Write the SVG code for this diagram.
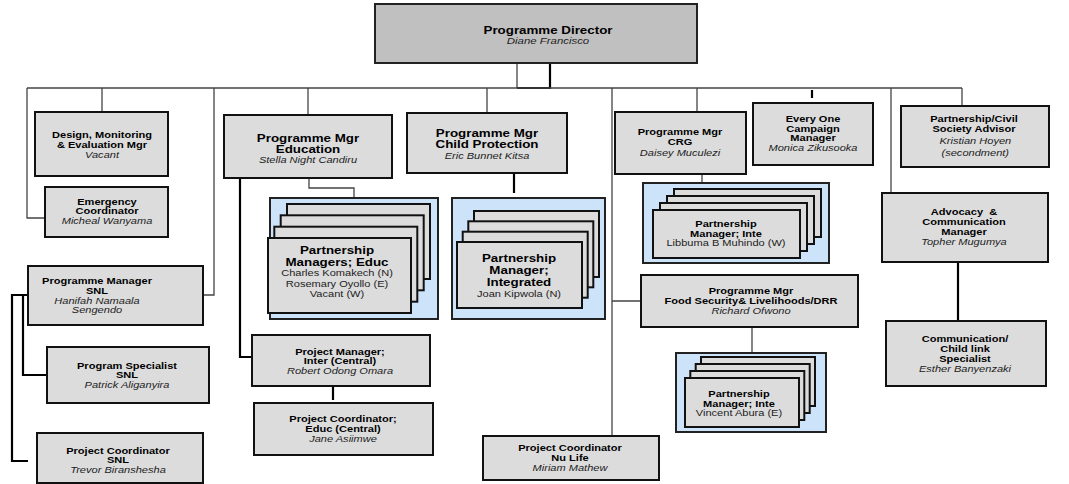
<svg xmlns="http://www.w3.org/2000/svg" width="1069" height="484" viewBox="0 0 1069 484">
  <style>
    .box { fill:#dcdcdc; stroke:#111; stroke-width:2; }
    .dir { fill:#c0c0c0; stroke:#222; stroke-width:2; }
    .frame { fill:#cce3fa; stroke:#222; stroke-width:2; }
    .card { fill:#dcdcdc; stroke:#111; stroke-width:2; }
    .ln { fill:none; stroke:#444; stroke-width:1.3; }
    .lk { fill:none; stroke:#000; stroke-width:2.2; }
    text { font-family:"Liberation Sans", Arial, sans-serif; text-anchor:middle; fill:#000; }
    .b { font-weight:bold; font-size:8.7px; }
    .i { font-style:italic; font-size:8.7px; fill:#222; }
    .r { font-size:8.7px; fill:#222; }
    .B { font-weight:bold; font-size:10.5px; }
  </style>

  <!-- connectors -->
  <g id="connectors">
    <path class="ln" d="M517,63 V88"/>
    <path class="lk" d="M550,63 V89 M517,88 H550"/>
    <path class="ln" d="M27,88 H962"/>
    <path class="ln" d="M27,88 V218 H45"/>
    <path class="ln" d="M102,88 V112"/>
    <path class="ln" d="M214,88 V295 H203"/>
    <path class="ln" d="M308,88 V115"/>
    <path class="ln" d="M487,88 V113"/>
    <path class="ln" d="M612,88 V436 M612,301 H641"/>
    <path class="ln" d="M697,88 V112"/>
    <path class="ln" d="M891,88 V193"/>
    <path class="ln" d="M962,88 V106"/>
    <path class="lk" d="M812,90 V98"/>
    <path class="lk" d="M28,295 H12 V461 H28"/>
    <path class="lk" d="M23,295 V375 H47"/>
    <path class="ln" d="M309,178 V188 H354 V198"/>
    <path class="lk" d="M240,178 V357 H252"/>
    <path class="lk" d="M333,387 V400"/>
    <path class="lk" d="M514,173 V193"/>
    <path class="ln" d="M702,174 V183"/>
    <path class="ln" d="M752,327 V352"/>
    <path class="lk" d="M958,262 V321"/>
  </g>

  <g id="director">
    <rect class="dir" x="375" y="4" width="322" height="59"/>
    <g transform="translate(548 0) scale(1.27 1)">
      <text class="B" x="0" y="34">Programme Director</text>
      <text class="i" x="0" y="44" style="font-size:9px">Diane Francisco</text>
    </g>
  </g>

  <g id="design-mgr">
    <rect class="box" x="35" y="112" width="133" height="64"/>
    <g transform="translate(102 0) scale(1.27 1)">
      <text class="b" x="0" y="138">Design, Monitoring</text>
      <text class="b" x="0" y="148">&amp; Evaluation Mgr</text>
      <text class="i" x="0" y="158">Vacant</text>
    </g>
  </g>

  <g id="emergency">
    <rect class="box" x="45" y="187" width="123" height="50"/>
    <g transform="translate(107 0) scale(1.27 1)">
      <text class="b" x="0" y="205">Emergency</text>
      <text class="b" x="0" y="214">Coordinator</text>
      <text class="i" x="0" y="224">Micheal Wanyama</text>
    </g>
  </g>

  <g id="snl-mgr">
    <rect class="box" x="28" y="266" width="175" height="59"/>
    <g transform="translate(97 0) scale(1.27 1)">
      <text class="b" x="0" y="284">Programme Manager</text>
      <text class="b" x="0" y="294">SNL</text>
      <text class="i" x="0" y="304">Hanifah Namaala</text>
      <text class="i" x="0" y="313">Sengendo</text>
    </g>
  </g>

  <g id="program-specialist">
    <rect class="box" x="47" y="347" width="162" height="56"/>
    <g transform="translate(127 0) scale(1.27 1)">
      <text class="b" x="0" y="369">Program Specialist</text>
      <text class="b" x="0" y="378">SNL</text>
      <text class="i" x="0" y="388">Patrick Aliganyira</text>
    </g>
  </g>

  <g id="snl-coordinator">
    <rect class="box" x="37" y="433" width="166" height="50"/>
    <g transform="translate(118 0) scale(1.27 1)">
      <text class="b" x="0" y="454">Project Coordinator</text>
      <text class="b" x="0" y="463">SNL</text>
      <text class="i" x="0" y="473">Trevor Biranshesha</text>
    </g>
  </g>

  <g id="education-mgr">
    <rect class="box" x="224" y="115" width="168" height="63"/>
    <g transform="translate(308 0) scale(1.27 1)">
      <text class="B" x="0" y="142">Programme Mgr</text>
      <text class="B" x="0" y="153">Education</text>
      <text class="i" x="0" y="163">Stella Night Candiru</text>
    </g>
  </g>

  <g id="education-partners">
    <rect class="frame" x="270" y="198" width="168" height="121"/>
    <rect class="card" x="287" y="204" width="143" height="75"/>
    <rect class="card" x="280.7" y="215.3" width="143" height="75"/>
    <rect class="card" x="274.3" y="226.7" width="143" height="75"/>
    <rect class="card" x="268" y="238" width="143" height="75"/>
    <g transform="translate(337 0) scale(1.27 1)">
      <text class="B" x="0" y="254">Partnership</text>
      <text class="B" x="0" y="266">Managers; Educ</text>
      <text class="r" x="0" y="276">Charles Komakech (N)</text>
      <text class="r" x="0" y="287">Rosemary Oyollo (E)</text>
      <text class="r" x="0" y="297">Vacant (W)</text>
    </g>
  </g>

  <g id="child-protection-mgr">
    <rect class="box" x="407" y="113" width="160" height="60"/>
    <g transform="translate(487 0) scale(1.27 1)">
      <text class="B" x="0" y="137">Programme Mgr</text>
      <text class="B" x="0" y="148">Child Protection</text>
      <text class="i" x="0" y="159">Eric Bunnet Kitsa</text>
    </g>
  </g>

  <g id="child-protection-partner">
    <rect class="frame" x="452" y="198" width="153" height="121"/>
    <rect class="card" x="474" y="211" width="125" height="66"/>
    <rect class="card" x="468.3" y="221.3" width="125" height="66"/>
    <rect class="card" x="462.7" y="231.7" width="125" height="66"/>
    <rect class="card" x="457" y="242" width="125" height="66"/>
    <g transform="translate(519 0) scale(1.27 1)">
      <text class="B" x="0" y="262">Partnership</text>
      <text class="B" x="0" y="274">Manager;</text>
      <text class="B" x="0" y="286">Integrated</text>
      <text class="r" x="0" y="297">Joan Kipwola (N)</text>
    </g>
  </g>

  <g id="project-mgr-inter">
    <rect class="box" x="252" y="335" width="178" height="51"/>
    <g transform="translate(340 0) scale(1.27 1)">
      <text class="b" x="0" y="355">Project Manager;</text>
      <text class="b" x="0" y="364">Inter (Central)</text>
      <text class="i" x="0" y="374">Robert Odong Omara</text>
    </g>
  </g>

  <g id="project-coord-educ">
    <rect class="box" x="254" y="403" width="179" height="52"/>
    <g transform="translate(343 0) scale(1.27 1)">
      <text class="b" x="0" y="422">Project Coordinator;</text>
      <text class="b" x="0" y="432">Educ (Central)</text>
      <text class="i" x="0" y="442">Jane Asiimwe</text>
    </g>
  </g>

  <g id="crg-mgr">
    <rect class="box" x="615" y="112" width="131" height="62"/>
    <g transform="translate(680 0) scale(1.27 1)">
      <text class="b" x="0" y="135">Programme Mgr</text>
      <text class="b" x="0" y="145">CRG</text>
      <text class="i" x="0" y="156">Daisey Muculezi</text>
    </g>
  </g>

  <g id="crg-partner">
    <rect class="frame" x="643" y="183" width="186" height="80"/>
    <rect class="card" x="674" y="189" width="147" height="48"/>
    <rect class="card" x="667" y="196" width="147" height="48"/>
    <rect class="card" x="660" y="203" width="147" height="48"/>
    <rect class="card" x="653" y="210" width="147" height="48"/>
    <g transform="translate(726 0) scale(1.27 1)">
      <text class="b" x="0" y="227">Partnership</text>
      <text class="b" x="0" y="237">Manager; Inte</text>
      <text class="r" x="0" y="246">Libbuma B Muhindo (W)</text>
    </g>
  </g>

  <g id="campaign-mgr">
    <rect class="box" x="753" y="103" width="120" height="62"/>
    <g transform="translate(813 0) scale(1.27 1)">
      <text class="b" x="0" y="122">Every One</text>
      <text class="b" x="0" y="132">Campaign</text>
      <text class="b" x="0" y="141">Manager</text>
      <text class="i" x="0" y="151">Monica Zikusooka</text>
    </g>
  </g>

  <g id="food-security-mgr">
    <rect class="box" x="641" y="275" width="217" height="52"/>
    <g transform="translate(751 0) scale(1.27 1)">
      <text class="b" x="0" y="294">Programme Mgr</text>
      <text class="b" x="0" y="304">Food Security&amp; Livelihoods/DRR</text>
      <text class="i" x="0" y="314">Richard Ofwono</text>
    </g>
  </g>

  <g id="food-security-partner">
    <rect class="frame" x="676" y="353" width="150" height="79"/>
    <rect class="card" x="701" y="357" width="114" height="49"/>
    <rect class="card" x="695.7" y="364" width="114" height="49"/>
    <rect class="card" x="690.3" y="371" width="114" height="49"/>
    <rect class="card" x="685" y="378" width="114" height="49"/>
    <g transform="translate(739 0) scale(1.27 1)">
      <text class="b" x="0" y="397">Partnership</text>
      <text class="b" x="0" y="407">Manager; Inte</text>
      <text class="r" x="0" y="416">Vincent Abura (E)</text>
    </g>
  </g>

  <g id="nulife-coordinator">
    <rect class="box" x="483" y="436" width="176" height="44"/>
    <g transform="translate(570 0) scale(1.27 1)">
      <text class="b" x="0" y="451">Project Coordinator</text>
      <text class="b" x="0" y="461">Nu Life</text>
      <text class="i" x="0" y="471">Miriam Mathew</text>
    </g>
  </g>

  <g id="civil-society-advisor">
    <rect class="box" x="901" y="106" width="148" height="61"/>
    <g transform="translate(974 0) scale(1.27 1)">
      <text class="b" x="0" y="122">Partnership/Civil</text>
      <text class="b" x="0" y="132">Society Advisor</text>
      <text class="i" x="1" y="144">Kristian Hoyen</text>
      <text class="i" x="1" y="156">(secondment)</text>
    </g>
  </g>

  <g id="advocacy-mgr">
    <rect class="box" x="882" y="193" width="166" height="69"/>
    <g transform="translate(964 0) scale(1.27 1)">
      <text class="b" x="0" y="215" xml:space="preserve">Advocacy  &amp;</text>
      <text class="b" x="0" y="225">Communication</text>
      <text class="b" x="0" y="235">Manager</text>
      <text class="i" x="0" y="245">Topher Mugumya</text>
    </g>
  </g>

  <g id="communication-specialist">
    <rect class="box" x="886" y="321" width="160" height="65"/>
    <g transform="translate(965 0) scale(1.27 1)">
      <text class="b" x="0" y="342">Communication/</text>
      <text class="b" x="0" y="352">Child link</text>
      <text class="b" x="0" y="362">Specialist</text>
      <text class="i" x="0" y="372">Esther Banyenzaki</text>
    </g>
  </g>
</svg>
